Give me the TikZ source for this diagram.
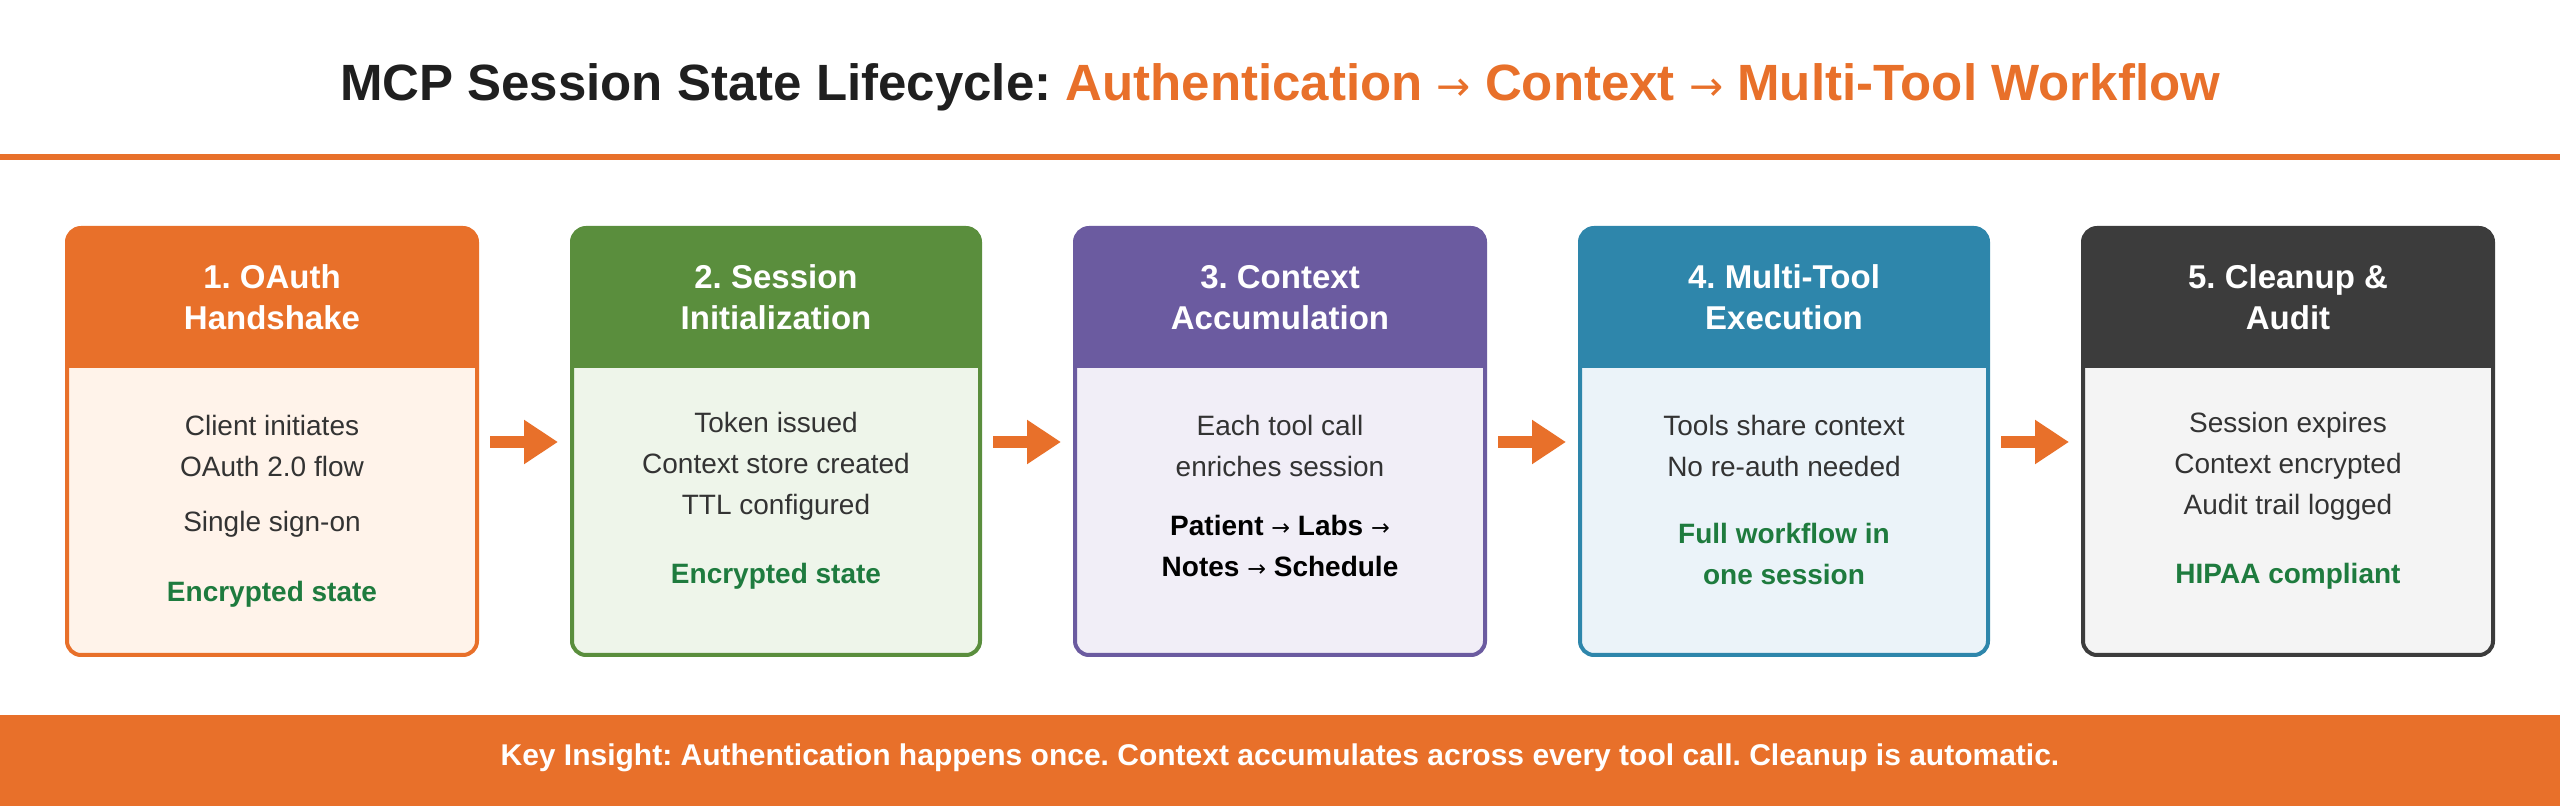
\documentclass[tikz,border=0pt]{standalone}
\usepackage{fontspec}
\setmainfont{Liberation Sans}
\newfontfamily\arr{DejaVu Sans}
\usetikzlibrary{arrows.meta}
\definecolor{org}{HTML}{E8702A}
\definecolor{grn}{HTML}{5A8E3D}
\definecolor{pur}{HTML}{6B5BA0}
\definecolor{blu}{HTML}{2E86AB}
\definecolor{drk}{HTML}{3C3C3C}
\definecolor{lorg}{HTML}{FFF3EA}
\definecolor{lgrn}{HTML}{EEF5EA}
\definecolor{lpur}{HTML}{F1EEF7}
\definecolor{lblu}{HTML}{EBF3F9}
\definecolor{ldrk}{HTML}{F4F4F4}
\definecolor{gtxt}{HTML}{1E7B3E}
\definecolor{btxt}{HTML}{333333}
\newcommand\ar{{\arr\mdseries\scalebox{0.8}{\symbol{"2192}}}}
\newcommand\stagebox[5]{% name, x1, x2, color, light
  \fill[#5,rounded corners=7pt] (#2,228) rectangle (#3,655);
  \fill[#4] (#2,368) [rounded corners=7pt]-- (#2,228) -- (#3,228) [sharp corners]-- (#3,368) -- cycle;
  \node[draw=#4,line width=2pt,rounded corners=7pt,minimum width={(#3-#2)*0.5pt},minimum height=213.5pt,inner sep=0] (#1) at ({(#2+#3)/2},441.5) {};
}
\tikzset{
  hd/.style={text=white,font=\fontsize{16.5}{20.5}\selectfont\bfseries,align=center},
  bd/.style={text=btxt,font=\fontsize{14}{20.5}\selectfont,align=center},
  gr/.style={text=gtxt,font=\fontsize{14}{20.5}\selectfont\bfseries,align=center},
  bk/.style={text=black,font=\fontsize{14}{20.5}\selectfont\bfseries,align=center},
  flow/.style={org,line width=6pt,-{Triangle[length=17pt,width=21pt]},shorten <=5.5pt,shorten >=6pt}
}
\begin{document}
\frenchspacing
\begin{tikzpicture}[x=0.5pt,y=-0.5pt]
\useasboundingbox (0,0) rectangle (2560,806);
\node (title) at (1280,87) {\fontsize{25.5}{30}\selectfont\bfseries\color[HTML]{1F1F1F}MCP Session State Lifecycle: \color{org}Authentication \ar{} Context \ar{} Multi-Tool Workflow};
\fill[org] (0,154) rectangle (2560,160);
\stagebox{s1}{67}{477}{org}{lorg}
\stagebox{s2}{572}{980}{grn}{lgrn}
\stagebox{s3}{1075}{1485}{pur}{lpur}
\stagebox{s4}{1580}{1988}{blu}{lblu}
\stagebox{s5}{2083}{2493}{drk}{ldrk}
\node[hd] (h1) at (272,297.5) {1. OAuth\\Handshake};
\node[hd] (h2) at (776,297.5) {2. Session\\Initialization};
\node[hd] (h3) at (1280,297.5) {3. Context\\Accumulation};
\node[hd] (h4) at (1784,297.5) {4. Multi-Tool\\Execution};
\node[hd] (h5) at (2288,297.5) {5. Cleanup \&\\Audit};
\node[bd] (b1) at (272,445.5) {Client initiates\\OAuth 2.0 flow};
\node[bd] (c1) at (272,524) {Single sign-on};
\node[gr] (g1) at (272,594) {Encrypted state};
\node[bd] (b2) at (776,466) {Token issued\\Context store created\\TTL configured};
\node[gr] (g2) at (776,576) {Encrypted state};
\node[bd] (b3) at (1280,445.5) {Each tool call\\enriches session};
\node[bk] (k3) at (1280,546) {Patient \ar{} Labs \ar{}\\Notes \ar{} Schedule};
\node[bd] (b4) at (1784,445.5) {Tools share context\\No re-auth needed};
\node[gr] (g4) at (1784,554) {Full workflow in\\one session};
\node[bd] (b5) at (2288,466) {Session expires\\Context encrypted\\Audit trail logged};
\node[gr] (g5) at (2288,576) {HIPAA compliant};
\draw[flow] (s1.east|-0,442) -- (s2.west|-0,442);
\draw[flow] (s2.east|-0,442) -- (s3.west|-0,442);
\draw[flow] (s3.east|-0,442) -- (s4.west|-0,442);
\draw[flow] (s4.east|-0,442) -- (s5.west|-0,442);
\fill[org] (0,715) rectangle (2560,806);
\node[text=white,font=\fontsize{15}{18}\selectfont\bfseries] (foot) at (1280,758) {Key Insight: Authentication happens once. Context accumulates across every tool call. Cleanup is automatic.};
\end{tikzpicture}
\end{document}
